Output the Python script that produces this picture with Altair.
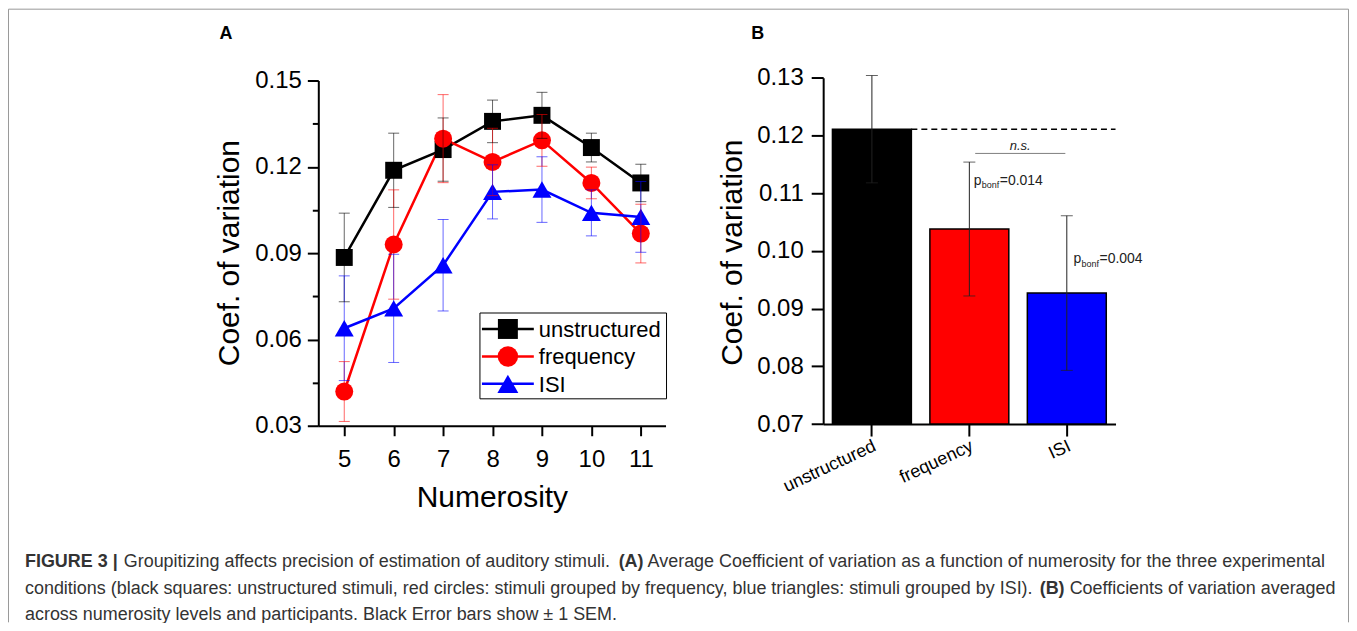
import altair as alt
import pandas as pd

# ---------------- data ----------------
series = ["unstructured", "frequency", "ISI"]
series_colors = ["#000000", "#ff0000", "#0000ff"]
series_shapes = ["square", "circle", "triangle-up"]

numerosity = [5, 6, 7, 8, 9, 10, 11]
cv_unstructured = [0.0885, 0.1188, 0.1260, 0.1358, 0.1379, 0.1267, 0.1144]
sem_unstructured = [0.0154, 0.0129, 0.0110, 0.0074, 0.0080, 0.0050, 0.0065]
cv_frequency = [0.0419, 0.0930, 0.1298, 0.1217, 0.1292, 0.1144, 0.0968]
sem_frequency = [0.0104, 0.0190, 0.0153, 0.0117, 0.0090, 0.0055, 0.0102]
cv_isi = [0.0639, 0.0708, 0.0858, 0.1113, 0.1121, 0.1040, 0.1026]
sem_isi = [0.0182, 0.0188, 0.0159, 0.0094, 0.0114, 0.0080, 0.0123]

mean_cv = [0.1211, 0.1038, 0.0927]
mean_sem = [0.0093, 0.0116, 0.0134]
p_values = ["=0.014", "=0.004"]

yA_ticks = [0.03, 0.06, 0.09, 0.12, 0.15]
yA_minor = [0.045, 0.075, 0.105, 0.135]
yB_ticks = [0.07, 0.08, 0.09, 0.10, 0.11, 0.12, 0.13]

caption_1 = [("FIGURE 3 |", "bold"),
             ("Groupitizing affects precision of estimation of auditory stimuli.", "normal"),
             ("(A)", "bold"),
             ("Average Coefficient of variation as a function of numerosity for the three experimental", "normal")]
caption_2 = [("conditions (black squares: unstructured stimuli, red circles: stimuli grouped by frequency, blue triangles: stimuli grouped by ISI).", "normal"),
             ("(B)", "bold"),
             ("Coefficients of variation averaged", "normal")]
caption_3 = [("across numerosity levels and participants. Black Error bars show \u00b1 1 SEM.", "normal")]

# ---------------- layout ----------------
W, H = 1344, 615
FONT = "Liberation Sans"
A_x0, A_x1, A_y0, A_y1 = 311, 659, 418, 72
B_x0, B_x1, B_y0, B_y1 = 817, 1110, 416.3, 69.3

rows = []
for s, cvs, sems in zip(series, [cv_unstructured, cv_frequency, cv_isi],
                        [sem_unstructured, sem_frequency, sem_isi]):
    for n, v, e in zip(numerosity, cvs, sems):
        rows.append(dict(series=s, n=n, cv=v, lo=v - e, hi=v + e))
dfA = pd.DataFrame(rows)

dfB = pd.DataFrame(dict(cond=series, cv=mean_cv,
                        lo=[v - e for v, e in zip(mean_cv, mean_sem)],
                        hi=[v + e for v, e in zip(mean_cv, mean_sem)]))

colorEnc = alt.Color("series:N", scale=alt.Scale(domain=series, range=series_colors), legend=None)
shapeEnc = alt.Shape("series:N", scale=alt.Scale(domain=series, range=series_shapes), legend=None)

# ---------------- panel A ----------------
def xA():
    return alt.Scale(domain=[4.475, 11.5], range=[A_x0, A_x1], nice=False, zero=False)

def yA():
    return alt.Scale(domain=[0.03, 0.15], range=[A_y0, A_y1], nice=False, zero=False)

axA_x = alt.Axis(orient="bottom", offset=-(H - A_y0), values=numerosity, format="d",
                 title="Numerosity", titleFontSize=30, titleX=485, titleY=81,
                 titleBaseline="alphabetic", titleAlign="center",
                 labelFontSize=24, labelPadding=12, tickSize=10, tickWidth=2,
                 domainWidth=2, labelFlush=False, labelOverlap=False)
axA_y = alt.Axis(orient="left", offset=-A_x0, values=yA_ticks, format=".2f",
                 title="Coef. of variation", titleFontSize=30, titleX=-80, titleY=244.5,
                 titleAngle=270, titleBaseline="alphabetic", titleAlign="center",
                 labelFontSize=24, labelPadding=6, tickSize=11, tickWidth=2,
                 domainWidth=2, labelFlush=False, labelOverlap=False)

encXA = alt.X("n:Q", scale=xA(), axis=axA_x)
baseA = alt.Chart(dfA)
lineA = baseA.mark_line(strokeWidth=2.5).encode(
    x=encXA, y=alt.Y("cv:Q", scale=yA(), axis=axA_y), color=colorEnc)
pointA = baseA.mark_point(filled=True, opacity=1).encode(
    x=encXA, y=alt.Y("cv:Q", scale=yA(), axis=axA_y), color=colorEnc, shape=shapeEnc,
    size=alt.Size("series:N", scale=alt.Scale(domain=series, range=[289, 361, 480]), legend=None))
errA = baseA.mark_rule(strokeWidth=1, opacity=0.6).encode(
    x=encXA, y=alt.Y("lo:Q", scale=yA(), axis=axA_y), y2="hi:Q", color=colorEnc)
capTopA = baseA.mark_tick(orient="horizontal", size=11, thickness=1, opacity=0.6).encode(
    x=encXA, y=alt.Y("hi:Q", scale=yA(), axis=axA_y), color=colorEnc)
capBotA = baseA.mark_tick(orient="horizontal", size=11, thickness=1, opacity=0.6).encode(
    x=encXA, y=alt.Y("lo:Q", scale=yA(), axis=axA_y), color=colorEnc)
panelA = alt.layer(lineA, pointA, errA, capTopA, capBotA)

minorA = alt.Chart(dfA).mark_point(opacity=0).encode(
    y=alt.Y("cv:Q", scale=yA(), axis=alt.Axis(orient="left", offset=-A_x0, values=yA_minor,
                                               labels=False, domain=False, tickSize=6, tickWidth=2,
                                               title="")))

# legend of panel A
dfLeg = pd.DataFrame(dict(series=series, idx=list(range(len(series)))))
legY = alt.Y("idx:Q", scale=alt.Scale(domain=[0, 2], range=[321, 376], nice=False, zero=False), axis=None)
legBox = alt.Chart(alt.Data(values=[{"k": 1}])).mark_rect(fill="white", stroke="black", strokeWidth=1).encode(
    x=alt.value(473), x2=alt.value(660), y=alt.value(305), y2=alt.value(391))
legLine = alt.Chart(dfLeg).mark_rule(strokeWidth=2.5).encode(
    x=alt.value(475), x2=alt.value(527), y=legY, color=colorEnc)
legPoint = alt.Chart(dfLeg).mark_point(filled=True, opacity=1).encode(
    x=alt.value(501), y=legY, color=colorEnc, shape=shapeEnc,
    size=alt.Size("series:N", scale=alt.Scale(domain=series, range=[400, 441, 529]), legend=None))
legText = alt.Chart(dfLeg).mark_text(align="left", baseline="middle", fontSize=22, font=FONT,
                                     color="black", dy=1).encode(
    x=alt.value(532), y=legY, text="series:N")

# ---------------- panel B ----------------
def xB():
    return alt.Scale(domain=series, range=[B_x0, B_x1], paddingInner=0.19, paddingOuter=0.095)

def yB():
    return alt.Scale(domain=[0.07, 0.13], range=[B_y0, B_y1], nice=False, zero=False)

axB_x = alt.Axis(orient="bottom", offset=-(H - B_y0), title="", labelFontSize=18,
                 labelAngle=335, labelAlign="right", labelBaseline="middle", labelPadding=9,
                 labelOffset=3, tickSize=12, tickWidth=2, domainWidth=2, labelOverlap=False)
axB_y = alt.Axis(orient="left", offset=-B_x0, values=yB_ticks, format=".2f",
                 title="Coef. of variation", titleFontSize=30, titleX=-82, titleY=244,
                 titleAngle=270, titleBaseline="alphabetic", titleAlign="center",
                 labelFontSize=24, labelPadding=8, tickSize=12, tickWidth=2,
                 domainWidth=2, labelFlush=False, labelOverlap=False)

encXB = alt.X("cond:N", sort=series, scale=xB(), axis=axB_x)
baseB = alt.Chart(dfB)
bars = baseB.mark_bar(stroke="black", strokeWidth=1.5).encode(
    x=encXB, y=alt.Y("cv:Q", scale=yB(), axis=axB_y), y2=alt.datum(0.07),
    color=alt.Color("cond:N", scale=alt.Scale(domain=series, range=series_colors), legend=None))
errB = baseB.mark_rule(strokeWidth=1, color="#222222").encode(
    x=encXB, y=alt.Y("lo:Q", scale=yB(), axis=axB_y), y2="hi:Q")
capTopB = baseB.mark_tick(orient="horizontal", size=12, thickness=1, color="#222222").encode(
    x=encXB, y=alt.Y("hi:Q", scale=yB(), axis=axB_y))
capBotB = baseB.mark_tick(orient="horizontal", size=12, thickness=1, color="#222222").encode(
    x=encXB, y=alt.Y("lo:Q", scale=yB(), axis=axB_y))
dash = baseB.transform_filter(alt.datum.cond == "unstructured").mark_rule(
    strokeDash=[6, 4], strokeWidth=1.5, color="black").encode(
    x=alt.X("cond:N", sort=series, scale=xB(), axis=axB_x, bandPosition=1),
    x2=alt.value(B_x1), y=alt.Y("cv:Q", scale=yB(), axis=axB_y))
panelB = alt.layer(bars, errB, capTopB, capBotB, dash)

# annotations of panel B (category index units)
def xIdx():
    return alt.Scale(domain=[-0.5, 2.5], range=[B_x0, B_x1], nice=False, zero=False)

dfNS = pd.DataFrame(dict(x1=[1.06], x2=[1.985], xm=[1.522], y=[0.1169], t=["n.s."]))
nsRule = alt.Chart(dfNS).mark_rule(color="#808080", strokeWidth=1).encode(
    x=alt.X("x1:Q", scale=xIdx(), axis=None), x2="x2:Q",
    y=alt.Y("y:Q", scale=yB(), axis=None))
nsText = alt.Chart(dfNS).mark_text(fontSize=13, fontStyle="italic", font=FONT, baseline="alphabetic",
                                   align="center", dy=-3, color="#222222").encode(
    x=alt.X("xm:Q", scale=xIdx(), axis=None), y=alt.Y("y:Q", scale=yB(), axis=None), text="t:N")
annNS = alt.layer(nsRule, nsText)

dfP = pd.DataFrame(dict(x=[1.046, 2.07], y=[0.11145, 0.09787], eq=p_values,
                        p=["p", "p"], sub=["bonf", "bonf"]))
encPX = alt.X("x:Q", scale=xIdx(), axis=None)
encPY = alt.Y("y:Q", scale=yB(), axis=None)
pTxt = alt.Chart(dfP).mark_text(fontSize=14, font=FONT, align="left", baseline="alphabetic",
                                color="#222222").encode(x=encPX, y=encPY, text="p:N")
subTxt = alt.Chart(dfP).mark_text(fontSize=9, font=FONT, align="left", baseline="alphabetic",
                                  dx=8, dy=3.5, color="#222222").encode(x=encPX, y=encPY, text="sub:N")
eqTxt = alt.Chart(dfP).mark_text(fontSize=14, font=FONT, align="left", baseline="alphabetic",
                                 dx=26, color="#222222").encode(x=encPX, y=encPY, text="eq:N")
annP = alt.layer(pTxt, subTxt, eqTxt)

# ---------------- frame, panel letters, caption ----------------
one = alt.Data(values=[{"k": 1}])
frameTop = alt.Chart(one).mark_rule(color="#999999", strokeWidth=1).encode(
    x=alt.value(0.5), x2=alt.value(W - 0.5), y=alt.value(0.5))
frameLeft = alt.Chart(one).mark_rule(color="#999999", strokeWidth=1).encode(
    x=alt.value(0.5), y=alt.value(0.5), y2=alt.value(H))
frameRight = alt.Chart(one).mark_rule(color="#999999", strokeWidth=1).encode(
    x=alt.value(W - 0.5), y=alt.value(0.5), y2=alt.value(H))

def label(txt, x, y, size, weight="normal", color="black"):
    return alt.Chart(alt.Data(values=[{"t": txt}])).mark_text(
        align="left", baseline="alphabetic", fontSize=size, fontWeight=weight,
        font=FONT, color=color).encode(x=alt.value(x), y=alt.value(y), text="t:N")

letters = [label("A", 212, 30, 18, "bold"), label("B", 745, 30, 18, "bold")]

CAP = 18
capColor = "#333333"
cap_x = [[17, 116, 612, 641], [17, 1034, 1064], [17]]
cap_y = [560, 587, 613]
caption_layers = []
for segs, xs, yy in zip([caption_1, caption_2, caption_3], cap_x, cap_y):
    for (t, wgt), xx in zip(segs, xs):
        caption_layers.append(label(t, xx, yy, CAP, wgt, capColor))

chart = alt.layer(
    frameTop, frameLeft, frameRight,
    panelA, minorA,
    legBox, legLine, legPoint, legText,
    panelB, annNS, annP,
    *letters, *caption_layers
).resolve_scale(
    x="independent", y="independent", size="independent"
).properties(
    width=W, height=H, padding=0, autosize=alt.AutoSizeParams(type="none")
).configure_view(
    stroke=None
).configure_axis(
    labelFont=FONT, titleFont=FONT, labelColor="black", titleColor="black",
    domainColor="black", tickColor="black", grid=False, titleFontWeight="normal"
)

chart.save("out.html", embed_options={"renderer": "svg", "actions": False})
